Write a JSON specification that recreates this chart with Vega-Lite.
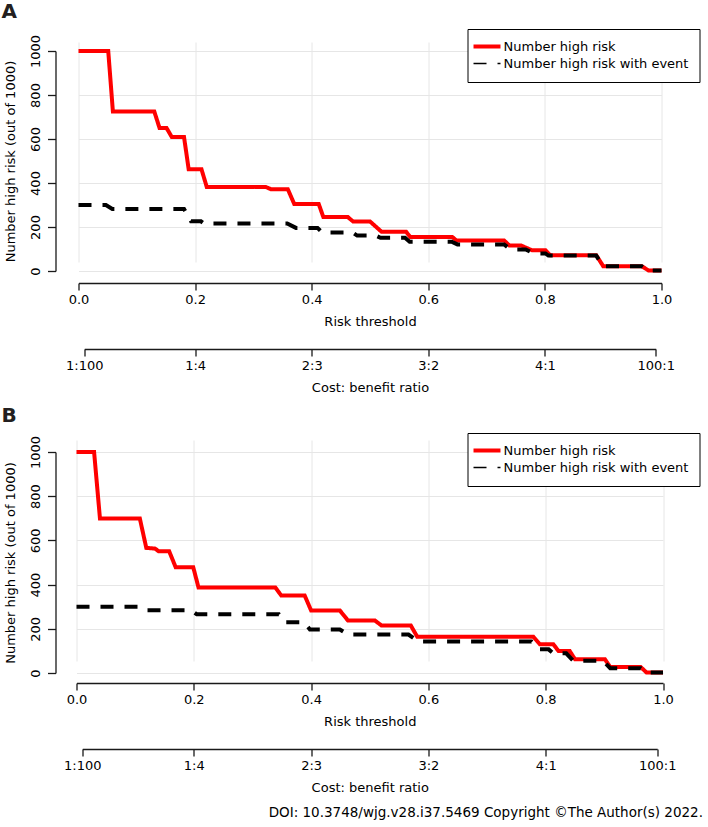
{
  "$schema": "https://vega.github.io/schema/vega-lite/v6.json",
  "padding": {"top": 1, "left": 0.5, "right": 2, "bottom": 4},
  "config": {
    "view": {"stroke": null},
    "font": "DejaVu Sans",
    "axis": {"labelFont": "DejaVu Sans", "titleFont": "DejaVu Sans", "labelFontSize": 13, "titleFontSize": 13, "titleFontWeight": "normal", "labelColor": "#000000", "titleColor": "#000000", "domain": true, "domainColor": "#1a1a1a", "tickColor": "#1a1a1a", "gridColor": "#e6e6e6", "domainWidth": 1.3, "tickWidth": 1.3},
    "legend": {"title": null, "orient": "none", "strokeColor": "#000000", "strokeWidth": 1, "fillColor": "#ffffff", "padding": 11, "symbolType": "M-2,0H2", "symbolSize": 182, "symbolStrokeWidth": 3.5, "labelFontSize": 13, "labelFont": "DejaVu Sans", "labelColor": "#000000", "labelOffset": 3, "rowPadding": 2, "labelLimit": 400}
  },
  "datasets": {
    "a": [
      {"t": 0, "n": 1000, "s": "Number high risk"}, {"t": 0.051, "n": 1000, "s": "Number high risk"}, {"t": 0.059, "n": 725, "s": "Number high risk"}, {"t": 0.130, "n": 725, "s": "Number high risk"}, {"t": 0.139, "n": 650, "s": "Number high risk"}, {"t": 0.151, "n": 650, "s": "Number high risk"}, {"t": 0.160, "n": 609, "s": "Number high risk"}, {"t": 0.181, "n": 609, "s": "Number high risk"}, {"t": 0.189, "n": 462, "s": "Number high risk"}, {"t": 0.211, "n": 462, "s": "Number high risk"}, {"t": 0.220, "n": 382, "s": "Number high risk"}, {"t": 0.321, "n": 382, "s": "Number high risk"}, {"t": 0.330, "n": 372, "s": "Number high risk"}, {"t": 0.359, "n": 372, "s": "Number high risk"}, {"t": 0.370, "n": 305, "s": "Number high risk"}, {"t": 0.412, "n": 305, "s": "Number high risk"}, {"t": 0.420, "n": 245, "s": "Number high risk"}, {"t": 0.462, "n": 245, "s": "Number high risk"}, {"t": 0.471, "n": 225, "s": "Number high risk"}, {"t": 0.500, "n": 225, "s": "Number high risk"}, {"t": 0.520, "n": 178, "s": "Number high risk"}, {"t": 0.562, "n": 178, "s": "Number high risk"}, {"t": 0.569, "n": 155, "s": "Number high risk"}, {"t": 0.641, "n": 155, "s": "Number high risk"}, {"t": 0.648, "n": 139, "s": "Number high risk"}, {"t": 0.730, "n": 139, "s": "Number high risk"}, {"t": 0.739, "n": 116, "s": "Number high risk"}, {"t": 0.759, "n": 116, "s": "Number high risk"}, {"t": 0.778, "n": 94, "s": "Number high risk"}, {"t": 0.801, "n": 94, "s": "Number high risk"}, {"t": 0.809, "n": 72, "s": "Number high risk"}, {"t": 0.888, "n": 72, "s": "Number high risk"}, {"t": 0.900, "n": 22, "s": "Number high risk"}, {"t": 0.966, "n": 22, "s": "Number high risk"}, {"t": 0.978, "n": 2, "s": "Number high risk"}, {"t": 1.0, "n": 2, "s": "Number high risk"},
      {"t": 0, "n": 300, "s": "Number high risk with event"}, {"t": 0.047, "n": 300, "s": "Number high risk with event"}, {"t": 0.058, "n": 282, "s": "Number high risk with event"}, {"t": 0.181, "n": 282, "s": "Number high risk with event"}, {"t": 0.193, "n": 226, "s": "Number high risk with event"}, {"t": 0.210, "n": 226, "s": "Number high risk with event"}, {"t": 0.215, "n": 216, "s": "Number high risk with event"}, {"t": 0.358, "n": 216, "s": "Number high risk with event"}, {"t": 0.373, "n": 196, "s": "Number high risk with event"}, {"t": 0.410, "n": 196, "s": "Number high risk with event"}, {"t": 0.418, "n": 175, "s": "Number high risk with event"}, {"t": 0.470, "n": 175, "s": "Number high risk with event"}, {"t": 0.478, "n": 161, "s": "Number high risk with event"}, {"t": 0.510, "n": 161, "s": "Number high risk with event"}, {"t": 0.518, "n": 151, "s": "Number high risk with event"}, {"t": 0.560, "n": 151, "s": "Number high risk with event"}, {"t": 0.568, "n": 133, "s": "Number high risk with event"}, {"t": 0.640, "n": 133, "s": "Number high risk with event"}, {"t": 0.650, "n": 121, "s": "Number high risk with event"}, {"t": 0.730, "n": 121, "s": "Number high risk with event"}, {"t": 0.741, "n": 98, "s": "Number high risk with event"}, {"t": 0.767, "n": 98, "s": "Number high risk with event"}, {"t": 0.781, "n": 80, "s": "Number high risk with event"}, {"t": 0.801, "n": 80, "s": "Number high risk with event"}, {"t": 0.806, "n": 70, "s": "Number high risk with event"}, {"t": 0.888, "n": 70, "s": "Number high risk with event"}, {"t": 0.900, "n": 22, "s": "Number high risk with event"}, {"t": 0.966, "n": 22, "s": "Number high risk with event"}, {"t": 0.978, "n": 2, "s": "Number high risk with event"}, {"t": 1.0, "n": 2, "s": "Number high risk with event"}
    ],
    "b": [
      {"t": 0, "n": 1000, "s": "Number high risk"}, {"t": 0.030, "n": 1000, "s": "Number high risk"}, {"t": 0.040, "n": 699, "s": "Number high risk"}, {"t": 0.108, "n": 699, "s": "Number high risk"}, {"t": 0.119, "n": 566, "s": "Number high risk"}, {"t": 0.134, "n": 563, "s": "Number high risk"}, {"t": 0.140, "n": 551, "s": "Number high risk"}, {"t": 0.158, "n": 551, "s": "Number high risk"}, {"t": 0.169, "n": 479, "s": "Number high risk"}, {"t": 0.199, "n": 479, "s": "Number high risk"}, {"t": 0.208, "n": 387, "s": "Number high risk"}, {"t": 0.339, "n": 387, "s": "Number high risk"}, {"t": 0.349, "n": 351, "s": "Number high risk"}, {"t": 0.389, "n": 351, "s": "Number high risk"}, {"t": 0.400, "n": 283, "s": "Number high risk"}, {"t": 0.449, "n": 283, "s": "Number high risk"}, {"t": 0.463, "n": 237, "s": "Number high risk"}, {"t": 0.509, "n": 237, "s": "Number high risk"}, {"t": 0.520, "n": 215, "s": "Number high risk"}, {"t": 0.570, "n": 215, "s": "Number high risk"}, {"t": 0.581, "n": 164, "s": "Number high risk"}, {"t": 0.779, "n": 164, "s": "Number high risk"}, {"t": 0.790, "n": 130, "s": "Number high risk"}, {"t": 0.813, "n": 130, "s": "Number high risk"}, {"t": 0.822, "n": 99, "s": "Number high risk"}, {"t": 0.841, "n": 99, "s": "Number high risk"}, {"t": 0.850, "n": 62, "s": "Number high risk"}, {"t": 0.901, "n": 62, "s": "Number high risk"}, {"t": 0.910, "n": 27, "s": "Number high risk"}, {"t": 0.962, "n": 27, "s": "Number high risk"}, {"t": 0.972, "n": 2, "s": "Number high risk"}, {"t": 1.0, "n": 2, "s": "Number high risk"},
      {"t": 0, "n": 300, "s": "Number high risk with event"}, {"t": 0.105, "n": 300, "s": "Number high risk with event"}, {"t": 0.115, "n": 284, "s": "Number high risk with event"}, {"t": 0.195, "n": 284, "s": "Number high risk with event"}, {"t": 0.205, "n": 266, "s": "Number high risk with event"}, {"t": 0.345, "n": 266, "s": "Number high risk with event"}, {"t": 0.355, "n": 230, "s": "Number high risk with event"}, {"t": 0.388, "n": 230, "s": "Number high risk with event"}, {"t": 0.398, "n": 197, "s": "Number high risk with event"}, {"t": 0.449, "n": 197, "s": "Number high risk with event"}, {"t": 0.463, "n": 174, "s": "Number high risk with event"}, {"t": 0.566, "n": 174, "s": "Number high risk with event"}, {"t": 0.583, "n": 142, "s": "Number high risk with event"}, {"t": 0.776, "n": 142, "s": "Number high risk with event"}, {"t": 0.790, "n": 107, "s": "Number high risk with event"}, {"t": 0.805, "n": 107, "s": "Number high risk with event"}, {"t": 0.813, "n": 89, "s": "Number high risk with event"}, {"t": 0.835, "n": 89, "s": "Number high risk with event"}, {"t": 0.847, "n": 55, "s": "Number high risk with event"}, {"t": 0.898, "n": 55, "s": "Number high risk with event"}, {"t": 0.910, "n": 22, "s": "Number high risk with event"}, {"t": 0.962, "n": 22, "s": "Number high risk with event"}, {"t": 0.972, "n": 2, "s": "Number high risk with event"}, {"t": 1.0, "n": 2, "s": "Number high risk with event"}
    ],
    "cost": [
      {"t": 0.0099, "r": "1:100"}, {"t": 0.2, "r": "1:4"}, {"t": 0.4, "r": "2:3"}, {"t": 0.6, "r": "3:2"}, {"t": 0.8, "r": "4:1"}, {"t": 0.9901, "r": "100:1"}
    ]
  },
  "resolve": {"scale": {"color": "independent", "strokeDash": "independent"}, "legend": {"color": "independent", "strokeDash": "independent"}},
  "spacing": 12,
  "title": {"text": "DOI: 10.3748/wjg.v28.i37.5469  Copyright ©The Author(s) 2022.", "orient": "bottom", "anchor": "end", "frame": "bounds", "font": "DejaVu Sans", "fontSize": 13.5, "fontWeight": "normal", "color": "#000000", "offset": 12, "dx": 3},
  "vconcat": [
    {
      "title": {"text": "A", "anchor": "start", "frame": "bounds", "font": "DejaVu Sans", "fontSize": 20, "fontWeight": "bold", "color": "#231f20", "offset": 7, "dx": -3},
      "width": 631,
      "height": 249,
      "resolve": {"scale": {"x": "independent"}, "axis": {"x": "independent"}},
      "layer": [
        {
          "data": {"name": "a"},
          "mark": {"type": "line", "strokeWidth": 4, "strokeCap": "butt"},
          "encoding": {
            "x": {"field": "t", "type": "quantitative", "scale": {"domain": [0, 1], "range": [23, 606], "nice": false, "zero": false},
                  "axis": {"values": [0, 0.2, 0.4, 0.6, 0.8, 1], "format": ".1f", "title": "Risk threshold", "grid": true, "tickSize": 7, "offset": 2, "labelPadding": 3, "titlePadding": 9, "labelFlush": false}},
            "y": {"field": "n", "type": "quantitative", "scale": {"domain": [0, 1000], "range": [239, 19], "nice": false},
                  "axis": {"values": [0, 200, 400, 600, 800, 1000], "format": "d", "title": "Number high risk (out of 1000)", "labelAngle": -90, "labelAlign": "center", "labelBaseline": "bottom", "tickSize": 8, "labelPadding": 5, "titlePadding": 12, "labelFlush": false}},
            "color": {"field": "s", "type": "nominal", "scale": {"domain": ["Number high risk", "Number high risk with event"], "range": ["#ff0000", "#000000"]},
                      "legend": {"legendX": 412, "legendY": -3,
                                 "encode": {"symbols": {"update": {"x": {"value": 8.5}, "strokeDash": {"signal": "datum.value == 'Number high risk' ? [1,0] : [5,4]"}, "strokeWidth": {"signal": "datum.value == 'Number high risk' ? 4 : 1.5"}}}, "labels": {"update": {"x": {"value": 25}}}}}},
            "strokeDash": {"field": "s", "type": "nominal", "scale": {"domain": ["Number high risk", "Number high risk with event"], "range": [[1, 0], [13, 11]]},
                      "legend": {"legendX": 412, "legendY": -3,
                                 "encode": {"symbols": {"update": {"x": {"value": 8.5}, "strokeDash": {"signal": "datum.value == 'Number high risk' ? [1,0] : [5,4]"}, "strokeWidth": {"signal": "datum.value == 'Number high risk' ? 4 : 1.5"}}}, "labels": {"update": {"x": {"value": 25}}}}}}
          }
        },
        {
          "data": {"name": "cost"},
          "mark": {"type": "point", "opacity": 0},
          "encoding": {
            "x": {"field": "t", "type": "quantitative", "scale": {"domain": [0.0099, 0.9901], "range": [28.8, 600.2], "nice": false, "zero": false},
                  "axis": {"orient": "bottom", "offset": 68, "values": [0.0099, 0.2, 0.4, 0.6, 0.8, 0.9901], "labelExpr": "datum.value < 0.1 ? '1:100' : datum.value < 0.3 ? '1:4' : datum.value < 0.5 ? '2:3' : datum.value < 0.7 ? '3:2' : datum.value < 0.9 ? '4:1' : '100:1'", "title": "Cost: benefit ratio", "grid": false, "tickSize": 7, "labelPadding": 3, "titlePadding": 9, "labelFlush": false}}
          }
        }
      ]
    },
    {
      "title": {"text": "B", "anchor": "start", "frame": "bounds", "font": "DejaVu Sans", "fontSize": 20, "fontWeight": "bold", "color": "#231f20", "offset": 6, "dx": -3},
      "width": 631,
      "height": 249,
      "resolve": {"scale": {"x": "independent"}, "axis": {"x": "independent"}},
      "layer": [
        {
          "data": {"name": "b"},
          "mark": {"type": "line", "strokeWidth": 4, "strokeCap": "butt"},
          "encoding": {
            "x": {"field": "t", "type": "quantitative", "scale": {"domain": [0, 1], "range": [21, 607.5], "nice": false, "zero": false},
                  "axis": {"values": [0, 0.2, 0.4, 0.6, 0.8, 1], "format": ".1f", "title": "Risk threshold", "grid": true, "tickSize": 7, "offset": 2, "labelPadding": 3, "titlePadding": 9, "labelFlush": false}},
            "y": {"field": "n", "type": "quantitative", "scale": {"domain": [0, 1000], "range": [241, 20], "nice": false},
                  "axis": {"values": [0, 200, 400, 600, 800, 1000], "format": "d", "title": "Number high risk (out of 1000)", "labelAngle": -90, "labelAlign": "center", "labelBaseline": "bottom", "tickSize": 8, "labelPadding": 5, "titlePadding": 12, "labelFlush": false}},
            "color": {"field": "s", "type": "nominal", "scale": {"domain": ["Number high risk", "Number high risk with event"], "range": ["#ff0000", "#000000"]},
                      "legend": {"legendX": 412, "legendY": 1,
                                 "encode": {"symbols": {"update": {"x": {"value": 8.5}, "strokeDash": {"signal": "datum.value == 'Number high risk' ? [1,0] : [5,4]"}, "strokeWidth": {"signal": "datum.value == 'Number high risk' ? 4 : 1.5"}}}, "labels": {"update": {"x": {"value": 25}}}}}},
            "strokeDash": {"field": "s", "type": "nominal", "scale": {"domain": ["Number high risk", "Number high risk with event"], "range": [[1, 0], [13, 11]]},
                      "legend": {"legendX": 412, "legendY": 1,
                                 "encode": {"symbols": {"update": {"x": {"value": 8.5}, "strokeDash": {"signal": "datum.value == 'Number high risk' ? [1,0] : [5,4]"}, "strokeWidth": {"signal": "datum.value == 'Number high risk' ? 4 : 1.5"}}}, "labels": {"update": {"x": {"value": 25}}}}}}
          }
        },
        {
          "data": {"name": "cost"},
          "mark": {"type": "point", "opacity": 0},
          "encoding": {
            "x": {"field": "t", "type": "quantitative", "scale": {"domain": [0.0099, 0.9901], "range": [26.8, 601.7], "nice": false, "zero": false},
                  "axis": {"orient": "bottom", "offset": 68, "values": [0.0099, 0.2, 0.4, 0.6, 0.8, 0.9901], "labelExpr": "datum.value < 0.1 ? '1:100' : datum.value < 0.3 ? '1:4' : datum.value < 0.5 ? '2:3' : datum.value < 0.7 ? '3:2' : datum.value < 0.9 ? '4:1' : '100:1'", "title": "Cost: benefit ratio", "grid": false, "tickSize": 7, "labelPadding": 3, "titlePadding": 9, "labelFlush": false}}
          }
        }
      ]
    }
  ]
}
